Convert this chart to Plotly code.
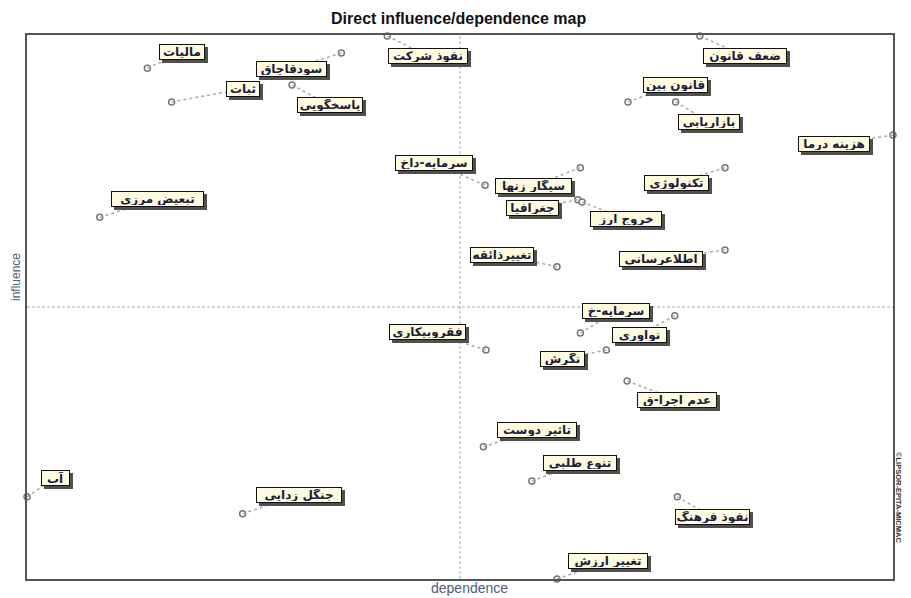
import plotly.graph_objects as go

# ---- data (dependence = x, influence = y) ----
labels = ["مالیات", "سودقاچاق", "ثبات", "پاسخگویی", "نفوذ شرکت", "ضعف قانون",
          "قانون بین", "بازاریابی", "هزینه درما", "تبعیض مرزی", "سرمایه-داخ",
          "سیگار زنها", "جغرافیا", "خروج ارز", "تکنولوژی", "تغییرذائقه",
          "اطلاعرسانی", "سرمایه-خ", "نوآوری", "نگرش", "فقروبیکاری",
          "عدم اجرا-ق", "تاثیر دوست", "تنوع طلبی", "آب", "جنگل زدایی",
          "نفوذ فرهنگ", "تغییر ارزش"]
dependence = [13.9, 36.3, 16.7, 30.6, 41.6, 77.7,
              69.4, 74.9, 100.0, 8.4, 52.9,
              63.9, 63.6, 64.1, 80.6, 61.2,
              80.6, 63.9, 74.8, 66.9, 53.0,
              69.3, 52.7, 58.3, 0.0, 24.9,
              75.1, 61.2]
influence = [93.9, 96.7, 87.7, 90.8, 99.8, 99.8,
             87.7, 87.7, 81.6, 66.5, 72.4,
             75.6, 69.7, 69.3, 75.6, 57.4,
             60.5, 45.2, 48.4, 42.1, 42.1,
             36.4, 24.3, 18.0, 15.1, 12.0,
             15.1, 0.0]

# ---- layout: label offsets from their points, in pixels (right, down) ----
label_dx = [35, -50, 71, 38, 41, 45, 47, 33, -59, 58, -51, -47, -45, 44, -49, -55,
            -64, 36, -35, -44, -58, 50, 54, 48, 28, 56, 35, 51]
label_dy = [-16, 16, -13, 20, 20, 20, -17, 20, 9, -18, -22, 18, 8, 17, 15, -12,
            9, -22, 19, 9, -18, 19, -17, -18, -19, -19, 20, -18]
# label box widths in pixels (style)
label_w = [46, 71, 34, 66, 80, 84, 65, 62, 72, 93, 78, 77, 53, 72, 65, 64,
           84, 68, 55, 45, 77, 80, 80, 74, 29, 86, 75, 80]

# the page body adds an 8px margin, so the figure is slightly smaller
W, H = 903, 590
ML, MR, MT, MB = 19, 18, 27, 19
PW, PH = W - ML - MR, H - MT - MB
XR, YR = (0, 100), (0, 100)
sx = PW / (XR[1] - XR[0])
sy = PH / (YR[1] - YR[0])
BOX_H = 12

fig = go.Figure()

shapes = [
    dict(type="line", xref="x", yref="y", x0=50, x1=50, y0=YR[0], y1=YR[1],
         line=dict(color="#aaa", width=1, dash="3px,2px"), layer="below"),
    dict(type="line", xref="x", yref="y", x0=XR[0], x1=XR[1], y0=50, y1=50,
         line=dict(color="#aaa", width=1, dash="3px,2px"), layer="below"),
]
annotations = []
for lab, xv, yv, dx, dy, bw in zip(labels, dependence, influence, label_dx, label_dy, label_w):
    shapes.append(dict(type="line", xref="x", yref="y", x0=xv, y0=yv,
                       x1=xv + dx / sx, y1=yv - dy / sy,
                       line=dict(color="#aaa", width=1.5, dash="dot"), layer="above"))
    # drop shadow box
    annotations.append(dict(x=xv, y=yv, xref="x", yref="y", text=" ",
                            showarrow=False, xshift=dx + 3, yshift=-dy - 3,
                            width=bw - 4, height=BOX_H,
                            font=dict(family="DejaVu Sans", size=12, color="#505050"),
                            bgcolor="#505050", bordercolor="#505050", borderwidth=1,
                            borderpad=1))
    annotations.append(dict(x=xv, y=yv, xref="x", yref="y", text="<b>" + lab + "</b>",
                            showarrow=False, xshift=dx, yshift=-dy,
                            width=bw - 4, height=BOX_H, align="center", valign="middle",
                            font=dict(family="DejaVu Sans", size=12, color="#1c1c3c"),
                            bgcolor="#fffbe0", bordercolor="#111", borderwidth=1,
                            borderpad=1))

fig.add_trace(go.Scatter(x=dependence, y=influence, mode="markers", cliponaxis=False,
                         marker=dict(symbol="circle", size=6, color="white",
                                     line=dict(color="#777", width=1.5)),
                         hoverinfo="text", text=labels, showlegend=False))

annotations += [
    dict(text="<b>Direct influence/dependence map</b>", xref="paper", yref="paper",
         x=(458 - 8 - ML) / PW, y=1, yshift=17, xanchor="center", yanchor="middle",
         showarrow=False,
         font=dict(family="Liberation Sans", size=16, color="#111")),
    dict(text="dependence", xref="paper", yref="paper", x=(469 - 8 - ML) / PW, y=0,
         yshift=-9, xanchor="center", yanchor="middle", showarrow=False,
         font=dict(family="Liberation Sans", size=14, color="#50607a")),
    dict(text="influence", xref="paper", yref="paper", x=0, xshift=-11,
         y=(H - MB - (277 - 8)) / PH, xanchor="center", yanchor="middle",
         showarrow=False, textangle=-90,
         font=dict(family="Liberation Sans", size=12, color="#50607a")),
    dict(text="<b>©LIPSOR-EPITA-MICMAC</b>", xref="paper", yref="paper", x=1, xshift=6,
         y=(H - MB - (497 - 8)) / PH, xanchor="center", yanchor="middle",
         showarrow=False, textangle=90,
         font=dict(family="Liberation Sans", size=7.5, color="#333")),
]

fig.update_layout(
    width=W, height=H, margin=dict(l=ML, r=MR, t=MT, b=MB),
    paper_bgcolor="white", plot_bgcolor="white",
    shapes=shapes, annotations=annotations,
    xaxis=dict(range=list(XR), showgrid=False, zeroline=False, showticklabels=False,
               ticks="", showline=True, mirror=True, linecolor="#555", linewidth=1.5),
    yaxis=dict(range=list(YR), showgrid=False, zeroline=False, showticklabels=False,
               ticks="", showline=True, mirror=True, linecolor="#555", linewidth=1.5),
)

fig.write_html("out.html")
